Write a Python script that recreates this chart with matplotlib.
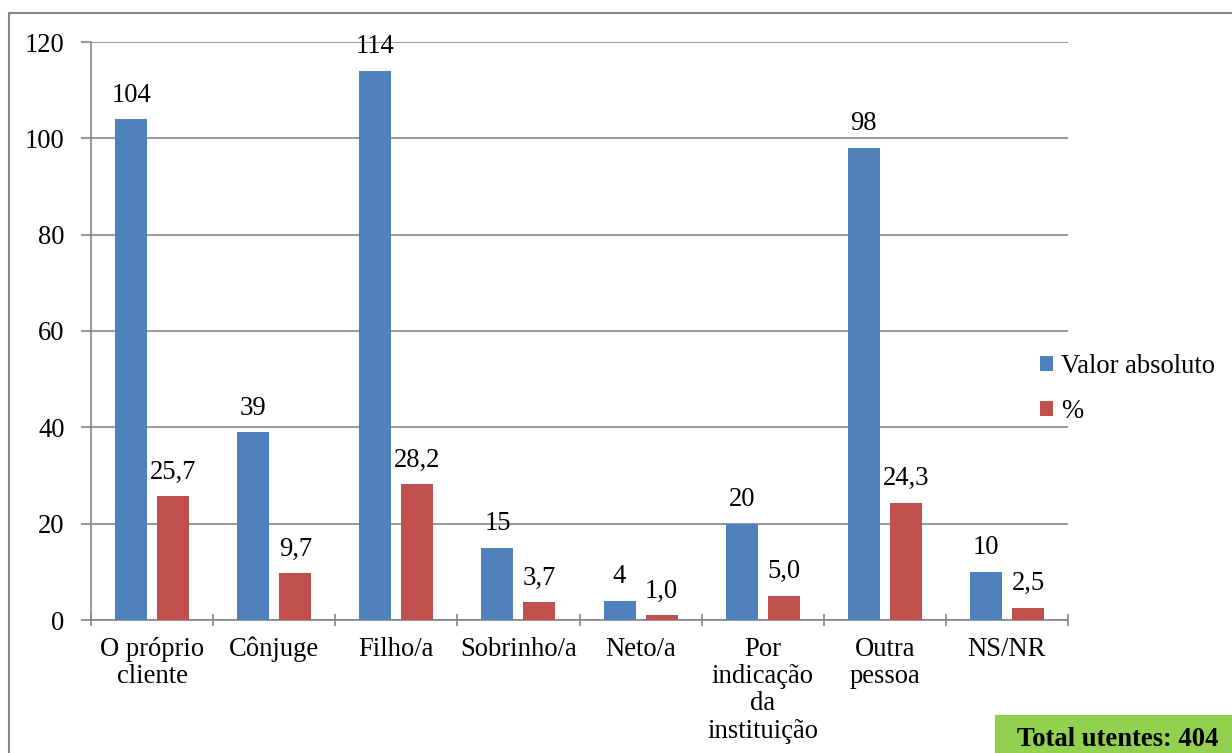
import numpy as np
import matplotlib
matplotlib.use("Agg")
import matplotlib.pyplot as plt
from matplotlib.patches import Rectangle

plt.rcParams["font.family"] = ["Liberation Serif", "DejaVu Serif"]

categories = ["O próprio\ncliente", "Cônjuge", "Filho/a", "Sobrinho/a", "Neto/a",
              "Por\nindicação\nda\ninstituição", "Outra\npessoa", "NS/NR"]
absolute = [104, 39, 114, 15, 4, 20, 98, 10]
percent = [25.7, 9.7, 28.2, 3.7, 1.0, 5.0, 24.3, 2.5]
total_label = "Total utentes: 404"

blue = "#4F81BD"
red = "#C0504D"
grid = "#868686"
fs = 19.2

fig = plt.figure(figsize=(12.32, 7.53), dpi=100)
ax = fig.add_axes([91 / 1232, 1 - 620 / 753, (1068 - 91) / 1232, (620 - 42) / 753])

x = np.arange(len(categories))
w = 0.262
off = 0.172
ax.bar(x - off, absolute, w, color=blue, label="Valor absoluto", zorder=3)
ax.bar(x + off, percent, w, color=red, label="%", zorder=3)

for xi, v in zip(x, absolute):
    ax.text(xi - off, v + 2.4, f"{v}", ha="center", va="bottom", fontsize=fs)
for xi, v in zip(x, percent):
    ax.text(xi + off, v + 2.4, f"{v:.1f}".replace(".", ","), ha="center", va="bottom", fontsize=fs)

ax.set_xlim(-0.5, len(categories) - 0.5)
ax.set_ylim(0, 120)
ax.set_yticks(range(0, 121, 20))
ax.yaxis.grid(True, color=grid, linewidth=1.2, zorder=0)
ax.tick_params(axis="y", labelsize=fs, length=7, color=grid, width=1.2, pad=12)

ax.set_xticks(x)
ax.set_xticklabels(categories, fontsize=fs, linespacing=1.12)
ax.set_xticks(np.arange(-0.5, len(categories)), minor=True)
ax.tick_params(axis="x", which="major", length=0, pad=12)
ax.tick_params(axis="x", which="minor", length=8, color=grid, width=1.2, direction="inout")

for s in ["top", "right"]:
    ax.spines[s].set_visible(False)
for s in ["left", "bottom"]:
    ax.spines[s].set_color(grid)
    ax.spines[s].set_linewidth(1.2)

ax.legend(loc="center left", bbox_to_anchor=((1040 - 91) / 977, 0.40), frameon=False,
          fontsize=fs, handlelength=0.5, handleheight=0.5, handletextpad=0.3,
          labelspacing=0.75, borderaxespad=0, borderpad=0)

# outer chart border
fig.add_artist(Rectangle((9 / 1232, -0.1), 1.2, 1.1 - 13 / 753, transform=fig.transFigure,
                         fill=False, edgecolor=grid, linewidth=1.5))

# green total box
fig.add_artist(Rectangle((995 / 1232, -0.05), 0.3, 0.05 + 38 / 753, transform=fig.transFigure,
                         facecolor="#92D050", edgecolor="none"))
fig.text(1118 / 1232, 1 - 739 / 753, total_label, ha="center", va="center",
         fontsize=fs, fontweight="bold")

fig.savefig("out.png", dpi=100)
